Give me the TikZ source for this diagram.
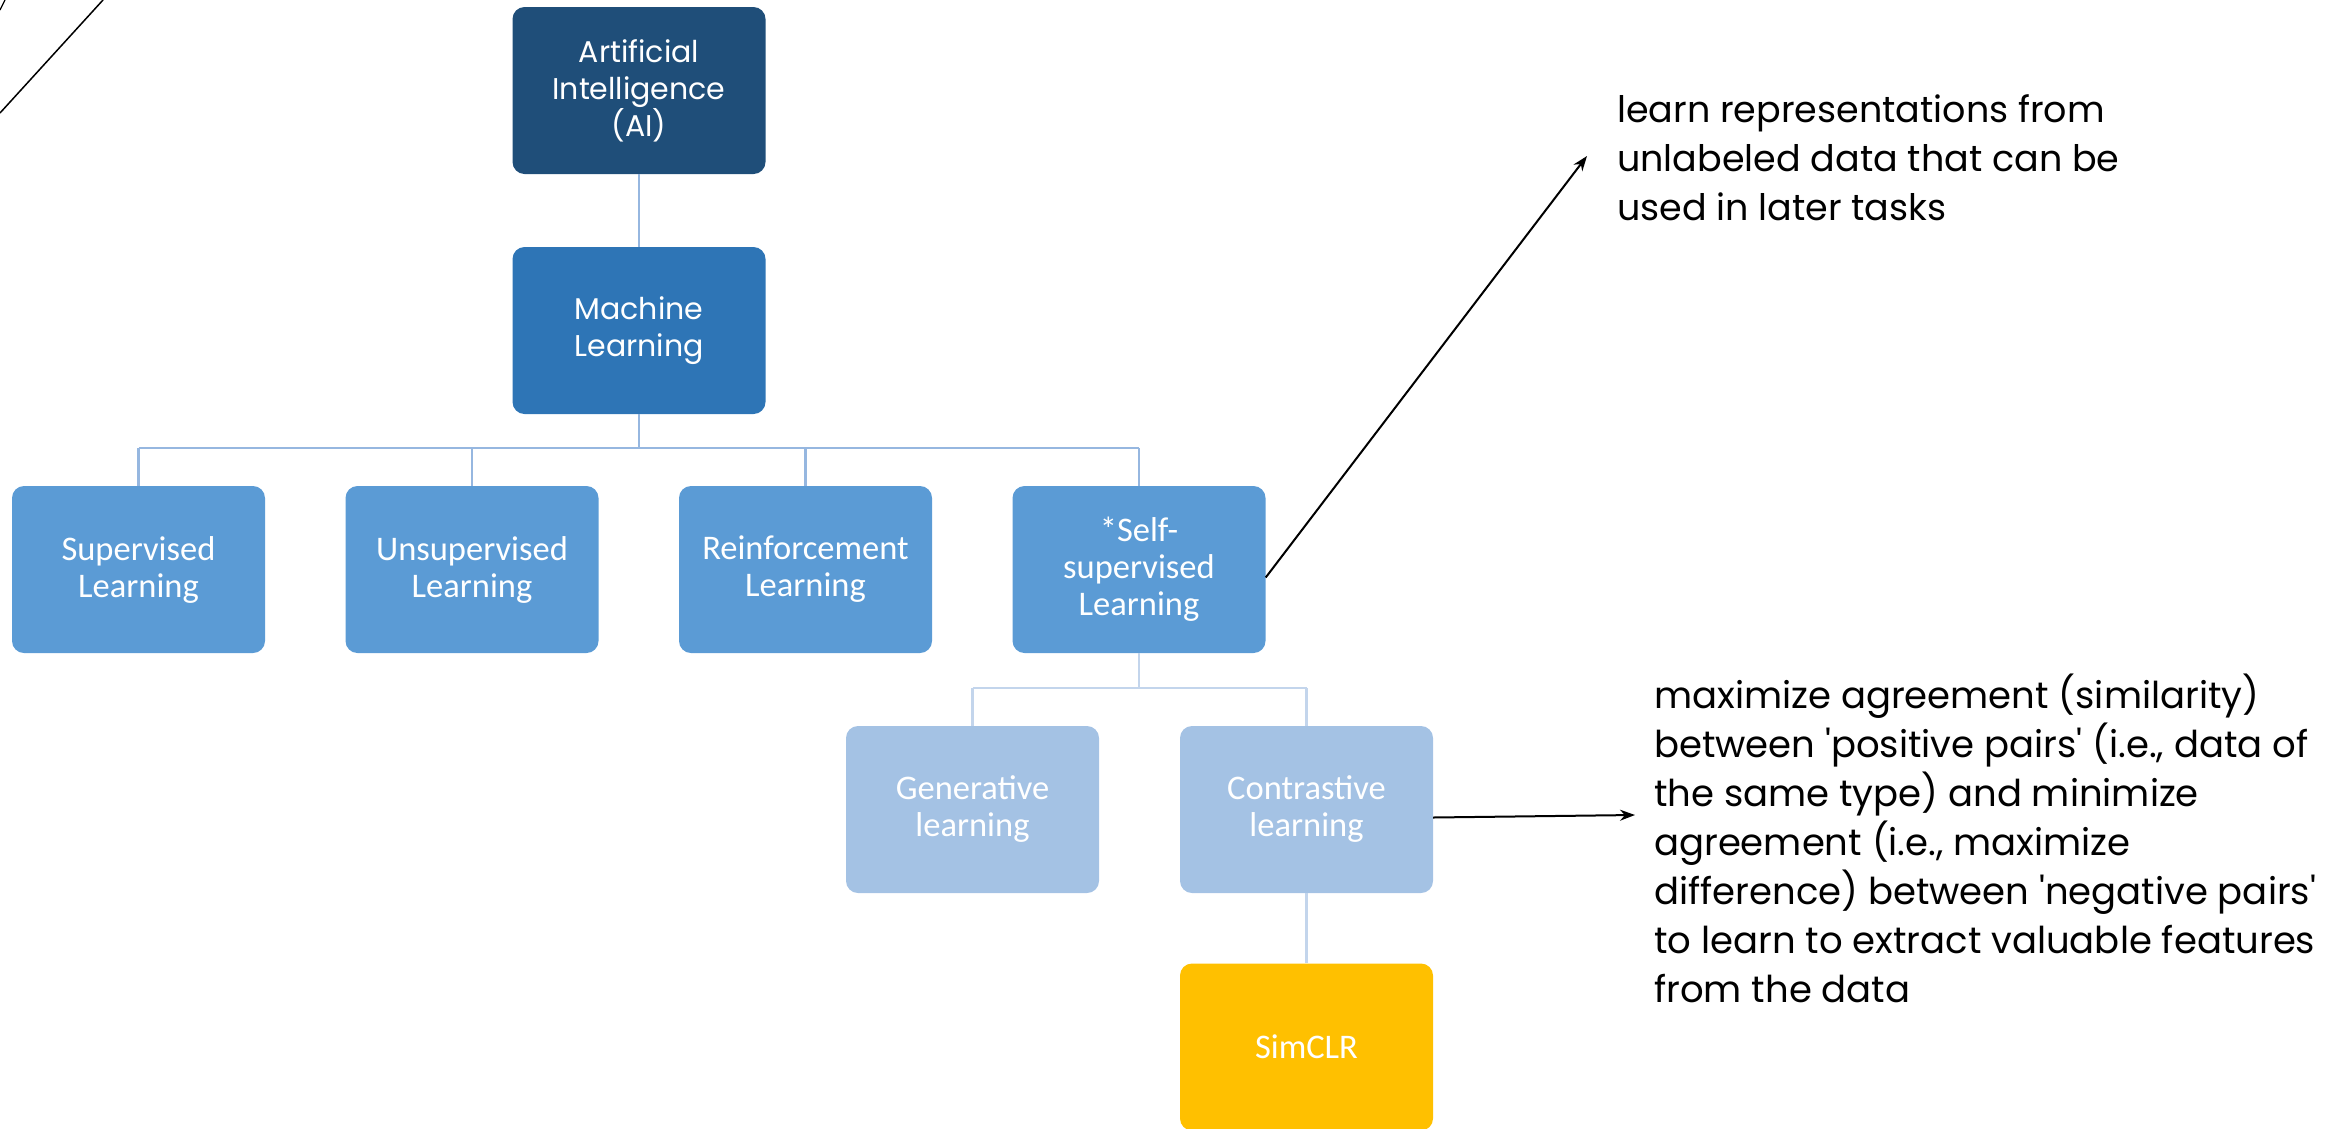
\documentclass[tikz,border=0pt]{standalone}
\usepackage{fontspec}
\setmainfont{Poppins}
\newfontfamily\carlitofont{Carlito}
\newfontfamily\notefont{Poppins}[Ligatures=TeXOff]
\usetikzlibrary{arrows.meta}
\definecolor{cAI}{RGB}{31,78,121}
\definecolor{cML}{RGB}{46,117,182}
\definecolor{cRow}{RGB}{91,155,213}
\definecolor{cSub}{RGB}{164,194,228}
\definecolor{cSim}{RGB}{255,192,0}
\definecolor{lnA}{RGB}{150,183,224}
\definecolor{lnB}{RGB}{195,213,236}
\tikzset{
  box/.style={rounded corners=12pt, minimum width=253pt, minimum height=167pt, text=white, align=center, inner sep=0pt},
  topbox/.style={box, font=\fontsize{30}{37}\selectfont},
  calbox/.style={box, font=\carlitofont\fontsize{34.5}{37}\selectfont},
  conn/.style={draw=lnA, line width=2.5pt},
  connB/.style={draw=lnB, line width=2.5pt},
  arr/.style={draw=black, line width=2pt, -{Stealth[length=15pt,width=11pt]}},
  note/.style={anchor=west, align=left, inner sep=0pt}
}
\begin{document}
\begin{tikzpicture}[x=1pt,y=-1pt]
\useasboundingbox (0,0) rectangle (2351,1128);
\clip (0,0) rectangle (2351,1128);
% stray lines top-left
\draw[line width=1.5pt] (0,113) -- (103,0);
\draw[line width=1.2pt] (0,10) -- (5,0);
% nodes
\node[topbox, fill=cAI] (ai) at (639,90.5) {Artificial\\Intelligence\\(AI)};
\node[topbox, fill=cML] (ml) at (639,330.5) {Machine\\Learning};
\node[calbox, fill=cRow] (sup) at (138.5,569.5) {Supervised\\Learning};
\node[calbox, fill=cRow] (uns) at (472,569.5) {Unsupervised\\Learning};
\node[calbox, fill=cRow] (rl) at (805.5,569.5) {Reinforcement\\Learning};
\node[calbox, fill=cRow] (ssl) at (1139,569.5) {*Self-\\supervised\\Learning};
\node[calbox, fill=cSub] (gen) at (972.5,809.5) {Generative\\learning};
\node[calbox, fill=cSub] (con) at (1306.5,809.5) {Contrastive\\learning};
\node[calbox, fill=cSim] (sim) at (1306.5,1047) {SimCLR};
% notes
\node[note, font=\notefont\fontsize{36.5}{49}\selectfont] (t1) at (1617,158) {learn representations from\\unlabeled data that can be\\used in later tasks};
\node[note, font=\notefont\fontsize{37}{49}\selectfont] (t2) at (1654,838) {maximize agreement (similarity)\\between 'positive pairs' (i.e., data of\\the same type) and minimize\\agreement (i.e., maximize\\difference) between 'negative pairs'\\to learn to extract valuable features\\from the data};
\coordinate (t1tip) at (1587,156);
\coordinate (t2tip) at (1635,815);
% tree connectors
\draw[conn] (ai.south) -- (ml.north);
\draw[conn] (ml.south) -- (ml.south |- 0,448);
\draw[conn] (sup.north |- 0,448) -- (ssl.north |- 0,448);
\foreach \n in {sup,uns,rl,ssl} \draw[conn] (\n.north) -- (\n.north |- 0,448);
\draw[connB] (ssl.south) -- (ssl.south |- 0,688);
\draw[connB] (gen.north |- 0,688) -- (con.north |- 0,688);
\draw[connB] (gen.north) -- (gen.north |- 0,688);
\draw[connB] (con.north) -- (con.north |- 0,688);
\draw[connB] (con.south) -- (sim.north);
% arrows
\draw[arr] ([yshift=-8pt]ssl.east) -- (t1tip);
\draw[arr] ([yshift=-8pt]con.east) -- (t2tip);
\end{tikzpicture}
\end{document}
